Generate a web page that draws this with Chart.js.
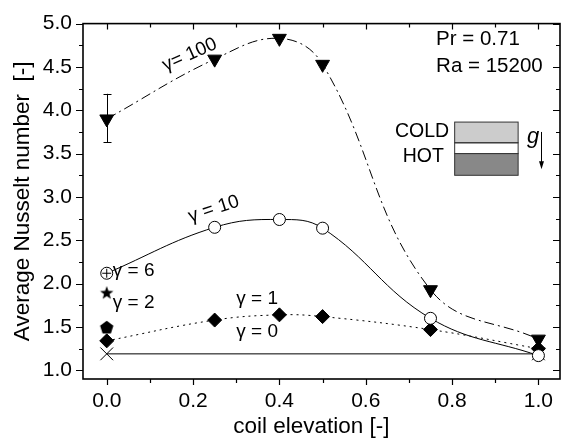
<!DOCTYPE html>
<html>
<head>
<meta charset="utf-8">
<script src="https://cdn.jsdelivr.net/npm/chart.js@4"></script>
<style>
  html, body { margin: 0; padding: 0; background: #fff; }
</style>
</head>
<body>
<canvas id="nusseltChart" width="570" height="441"></canvas>
<script>
// coil elevation [-] and average Nusselt number per gamma
const elevation = [0, 0.25, 0.4, 0.5, 0.75, 1.0];
const nuGamma100 = [3.90, 4.59, 4.83, 4.53, 1.93, 1.36];
const nuGamma10 = [2.12, 2.65, 2.74, 2.64, 1.60, 1.17];
const nuGamma1 = [1.34, 1.58, 1.64, 1.62, 1.47, 1.25];
const elevationGamma0 = [0, 1.0];
const nuGamma0 = [1.19, 1.19];

// single runs at zero elevation
const elevationSingle = [0];
const nuGamma6 = [2.12];
const nuGamma2 = [1.90];
const nuPentagon = [1.50];

// error bar on gamma = 100 at zero elevation
const errLow100 = [3.63];
const errHigh100 = [4.19];

// axis ticks
const xTicks = [0, 0.2, 0.4, 0.6, 0.8, 1.0];
const xMinor = [0.1, 0.3, 0.5, 0.7, 0.9];
const yTicks = [1.0, 1.5, 2.0, 2.5, 3.0, 3.5, 4.0, 4.5, 5.0];
const yMinor = [1.25, 1.75, 2.25, 2.75, 3.25, 3.75, 4.25, 4.75];

const FONT = '"Liberation Sans", Arial, sans-serif';

function makeMarker(size, draw) {
    const c = document.createElement('canvas');
    c.width = size;
    c.height = size;
    const ctx = c.getContext('2d');
    ctx.fillStyle = '#000';
    draw(ctx, size / 2);
    return c;
}

const starMarker = makeMarker(16, (ctx, r) => {
    ctx.beginPath();
    for (let i = 0; i < 10; i++) {
        const rad = (i % 2 === 0) ? 7 : 2.9;
        const a = -Math.PI / 2 + i * Math.PI / 5;
        ctx.lineTo(r + rad * Math.cos(a), r + 0.8 + rad * Math.sin(a));
    }
    ctx.closePath();
    ctx.fill();
});

const pentagonMarker = makeMarker(16, (ctx, r) => {
    ctx.beginPath();
    for (let i = 0; i < 5; i++) {
        const a = -Math.PI / 2 + i * 2 * Math.PI / 5;
        ctx.lineTo(r + 7 * Math.cos(a), r + 0.8 + 7 * Math.sin(a));
    }
    ctx.closePath();
    ctx.fill();
});

function series(label, xs, ys, opts) {
    return Object.assign({
        label: label,
        data: xs.map((x, i) => ({ x: x, y: ys[i] })),
        borderColor: '#000',
        backgroundColor: '#000',
        borderWidth: 1,
        pointBorderColor: '#000',
        pointBackgroundColor: '#000',
        pointBorderWidth: 1,
        showLine: true,
        tension: 0
    }, opts);
}

// text labels placed in data coordinates
const annotations = [
    { text: 'γ= 100', x: 0.192, y: 4.64, rot: -24, size: 19, align: 'center' },
    { text: 'γ = 10', x: 0.248, y: 2.86, rot: -18, size: 19, align: 'center' },
    { text: 'γ = 6', x: 0.014, y: 2.15, rot: 0, size: 19, align: 'left' },
    { text: 'γ = 2', x: 0.014, y: 1.78, rot: 0, size: 19, align: 'left' },
    { text: 'γ = 1', x: 0.300, y: 1.82, rot: 0, size: 19, align: 'left' },
    { text: 'γ = 0', x: 0.300, y: 1.44, rot: 0, size: 19, align: 'left' },
    { text: 'Pr = 0.71', x: 0.763, y: 4.82, rot: 0, size: 20.5, align: 'left' },
    { text: 'Ra = 15200', x: 0.763, y: 4.51, rot: 0, size: 20.5, align: 'left' },
    { text: 'COLD', x: 0.793, y: 3.75, rot: 0, size: 19.5, align: 'right' },
    { text: 'HOT', x: 0.781, y: 3.46, rot: 0, size: 19.5, align: 'right' }
];

const framePlugin = {
    id: 'frame',
    beforeDatasetsDraw(chart) {
        const ctx = chart.ctx;
        const xs = chart.scales.x, ys = chart.scales.y;
        // error bar
        ctx.save();
        ctx.strokeStyle = '#000';
        ctx.lineWidth = 1;
        errLow100.forEach((lo, i) => {
            const px = Math.round(xs.getPixelForValue(elevation[i])) + 0.5;
            const p1 = ys.getPixelForValue(lo), p2 = ys.getPixelForValue(errHigh100[i]);
            ctx.beginPath();
            ctx.moveTo(px, p1); ctx.lineTo(px, p2);
            ctx.moveTo(px - 4, Math.round(p1) + 0.5); ctx.lineTo(px + 4, Math.round(p1) + 0.5);
            ctx.moveTo(px - 4, Math.round(p2) + 0.5); ctx.lineTo(px + 4, Math.round(p2) + 0.5);
            ctx.stroke();
        });
        ctx.restore();
    },
    afterDatasetsDraw(chart) {
        const ctx = chart.ctx;
        const a = chart.chartArea;
        const xs = chart.scales.x, ys = chart.scales.y;
        ctx.save();
        ctx.strokeStyle = '#000';
        ctx.lineWidth = 1.6;
        ctx.strokeRect(a.left, a.top, a.right - a.left, a.bottom - a.top);

        // ticks: outward on bottom/left, inward on top/right
        ctx.lineWidth = 1.2;
        ctx.beginPath();
        const tickX = (v, len) => {
            const px = Math.round(xs.getPixelForValue(v)) + 0.5;
            ctx.moveTo(px, a.bottom); ctx.lineTo(px, a.bottom + len);
            ctx.moveTo(px, a.top); ctx.lineTo(px, a.top + len);
        };
        const tickY = (v, len) => {
            const py = Math.round(ys.getPixelForValue(v)) + 0.5;
            ctx.moveTo(a.left, py); ctx.lineTo(a.left - len, py);
            ctx.moveTo(a.right, py); ctx.lineTo(a.right - len, py);
        };
        xTicks.forEach(v => tickX(v, 6));
        xMinor.forEach(v => tickX(v, 4));
        yTicks.forEach(v => tickY(v, 7));
        yMinor.forEach(v => tickY(v, 4));
        ctx.stroke();

        // inset: cold / hot layers and gravity arrow
        const bx1 = xs.getPixelForValue(0.806), bx2 = xs.getPixelForValue(0.953);
        const by1 = ys.getPixelForValue(3.864), by2 = ys.getPixelForValue(3.625);
        const by3 = ys.getPixelForValue(3.50), by4 = ys.getPixelForValue(3.25);
        ctx.lineWidth = 1;
        ctx.strokeStyle = '#333';
        ctx.fillStyle = '#cccccc';
        ctx.fillRect(bx1, by1, bx2 - bx1, by2 - by1);
        ctx.strokeRect(bx1, by1, bx2 - bx1, by2 - by1);
        ctx.strokeRect(bx1, by2, bx2 - bx1, by3 - by2);
        ctx.fillStyle = '#888888';
        ctx.fillRect(bx1, by3, bx2 - bx1, by4 - by3);
        ctx.strokeRect(bx1, by3, bx2 - bx1, by4 - by3);

        const gx = Math.round(xs.getPixelForValue(1.005)) + 0.5;
        const gy1 = ys.getPixelForValue(3.75), gy2 = ys.getPixelForValue(3.32);
        ctx.strokeStyle = '#000';
        ctx.beginPath();
        ctx.moveTo(gx, gy1); ctx.lineTo(gx, gy2 - 6);
        ctx.stroke();
        ctx.fillStyle = '#000';
        ctx.beginPath();
        ctx.moveTo(gx - 2.5, gy2 - 8); ctx.lineTo(gx + 2.5, gy2 - 8); ctx.lineTo(gx, gy2);
        ctx.closePath();
        ctx.fill();
        ctx.font = 'italic 22px ' + FONT;
        ctx.textAlign = 'center';
        ctx.textBaseline = 'middle';
        ctx.fillText('g', xs.getPixelForValue(0.988), ys.getPixelForValue(3.69));

        // text labels
        annotations.forEach(t => {
            ctx.save();
            ctx.translate(xs.getPixelForValue(t.x), ys.getPixelForValue(t.y));
            ctx.rotate(t.rot * Math.PI / 180);
            ctx.font = t.size + 'px ' + FONT;
            ctx.textAlign = t.align;
            ctx.textBaseline = 'middle';
            ctx.fillText(t.text, 0, 0);
            ctx.restore();
        });

        // x axis title
        ctx.font = '22.5px ' + FONT;
        ctx.textAlign = 'center';
        ctx.textBaseline = 'middle';
        ctx.fillText('coil elevation [-]', xs.getPixelForValue(0.474), 427);
        ctx.restore();
    }
};

new Chart(document.getElementById('nusseltChart'), {
    type: 'scatter',
    data: {
        datasets: [
            series('γ = 6', elevationSingle, nuGamma6, {
                showLine: false, pointStyle: 'cross', pointRadius: 4.5
            }),
            series('γ = 10', elevation, nuGamma10, {
                pointStyle: 'circle', pointRadius: 6, pointBackgroundColor: '#fff', tension: 0.4
            }),
            series('γ = 100', elevation, nuGamma100, {
                pointStyle: 'triangle', pointRotation: 180, pointRadius: 8,
                borderDash: [10, 4, 2, 4], tension: 0.4
            }),
            series('γ = 1', elevation, nuGamma1, {
                pointStyle: 'rectRot', pointRadius: 7, borderDash: [2, 4], tension: 0.4
            }),
            series('γ = 2', elevationSingle, nuGamma2, {
                showLine: false, pointStyle: starMarker
            }),
            series('pentagon', elevationSingle, nuPentagon, {
                showLine: false, pointStyle: pentagonMarker
            }),
            series('γ = 0', elevationGamma0, nuGamma0, {
                pointStyle: 'crossRot', pointRadius: 9
            })
        ]
    },
    options: {
        responsive: false,
        animation: false,
        devicePixelRatio: 1,
        layout: { padding: { left: 0, right: 6, top: 19, bottom: 0 } },
        plugins: {
            legend: { display: false },
            tooltip: { enabled: false }
        },
        scales: {
            x: {
                type: 'linear',
                min: -0.055,
                max: 1.05,
                grid: { display: false, drawTicks: false },
                border: { display: false },
                afterBuildTicks: scale => { scale.ticks = xTicks.map(v => ({ value: v })); },
                afterFit: scale => { scale.height = 62; },
                ticks: {
                    padding: 10,
                    color: '#000',
                    font: { family: FONT, size: 21 },
                    callback: v => v.toFixed(1)
                }
            },
            y: {
                type: 'linear',
                min: 0.9,
                max: 5.0,
                grid: { display: false, drawTicks: false },
                border: { display: false },
                afterBuildTicks: scale => { scale.ticks = yTicks.map(v => ({ value: v })); },
                afterFit: scale => { scale.width = 83; },
                title: {
                    display: true,
                    text: 'Average Nusselt number  [-]',
                    color: '#000',
                    font: { family: FONT, size: 22.5 },
                    padding: { top: 9, bottom: 0 }
                },
                ticks: {
                    padding: 11,
                    color: '#000',
                    font: { family: FONT, size: 21 },
                    callback: v => v.toFixed(1)
                }
            }
        }
    },
    plugins: [framePlugin]
});
</script>
</body>
</html>
